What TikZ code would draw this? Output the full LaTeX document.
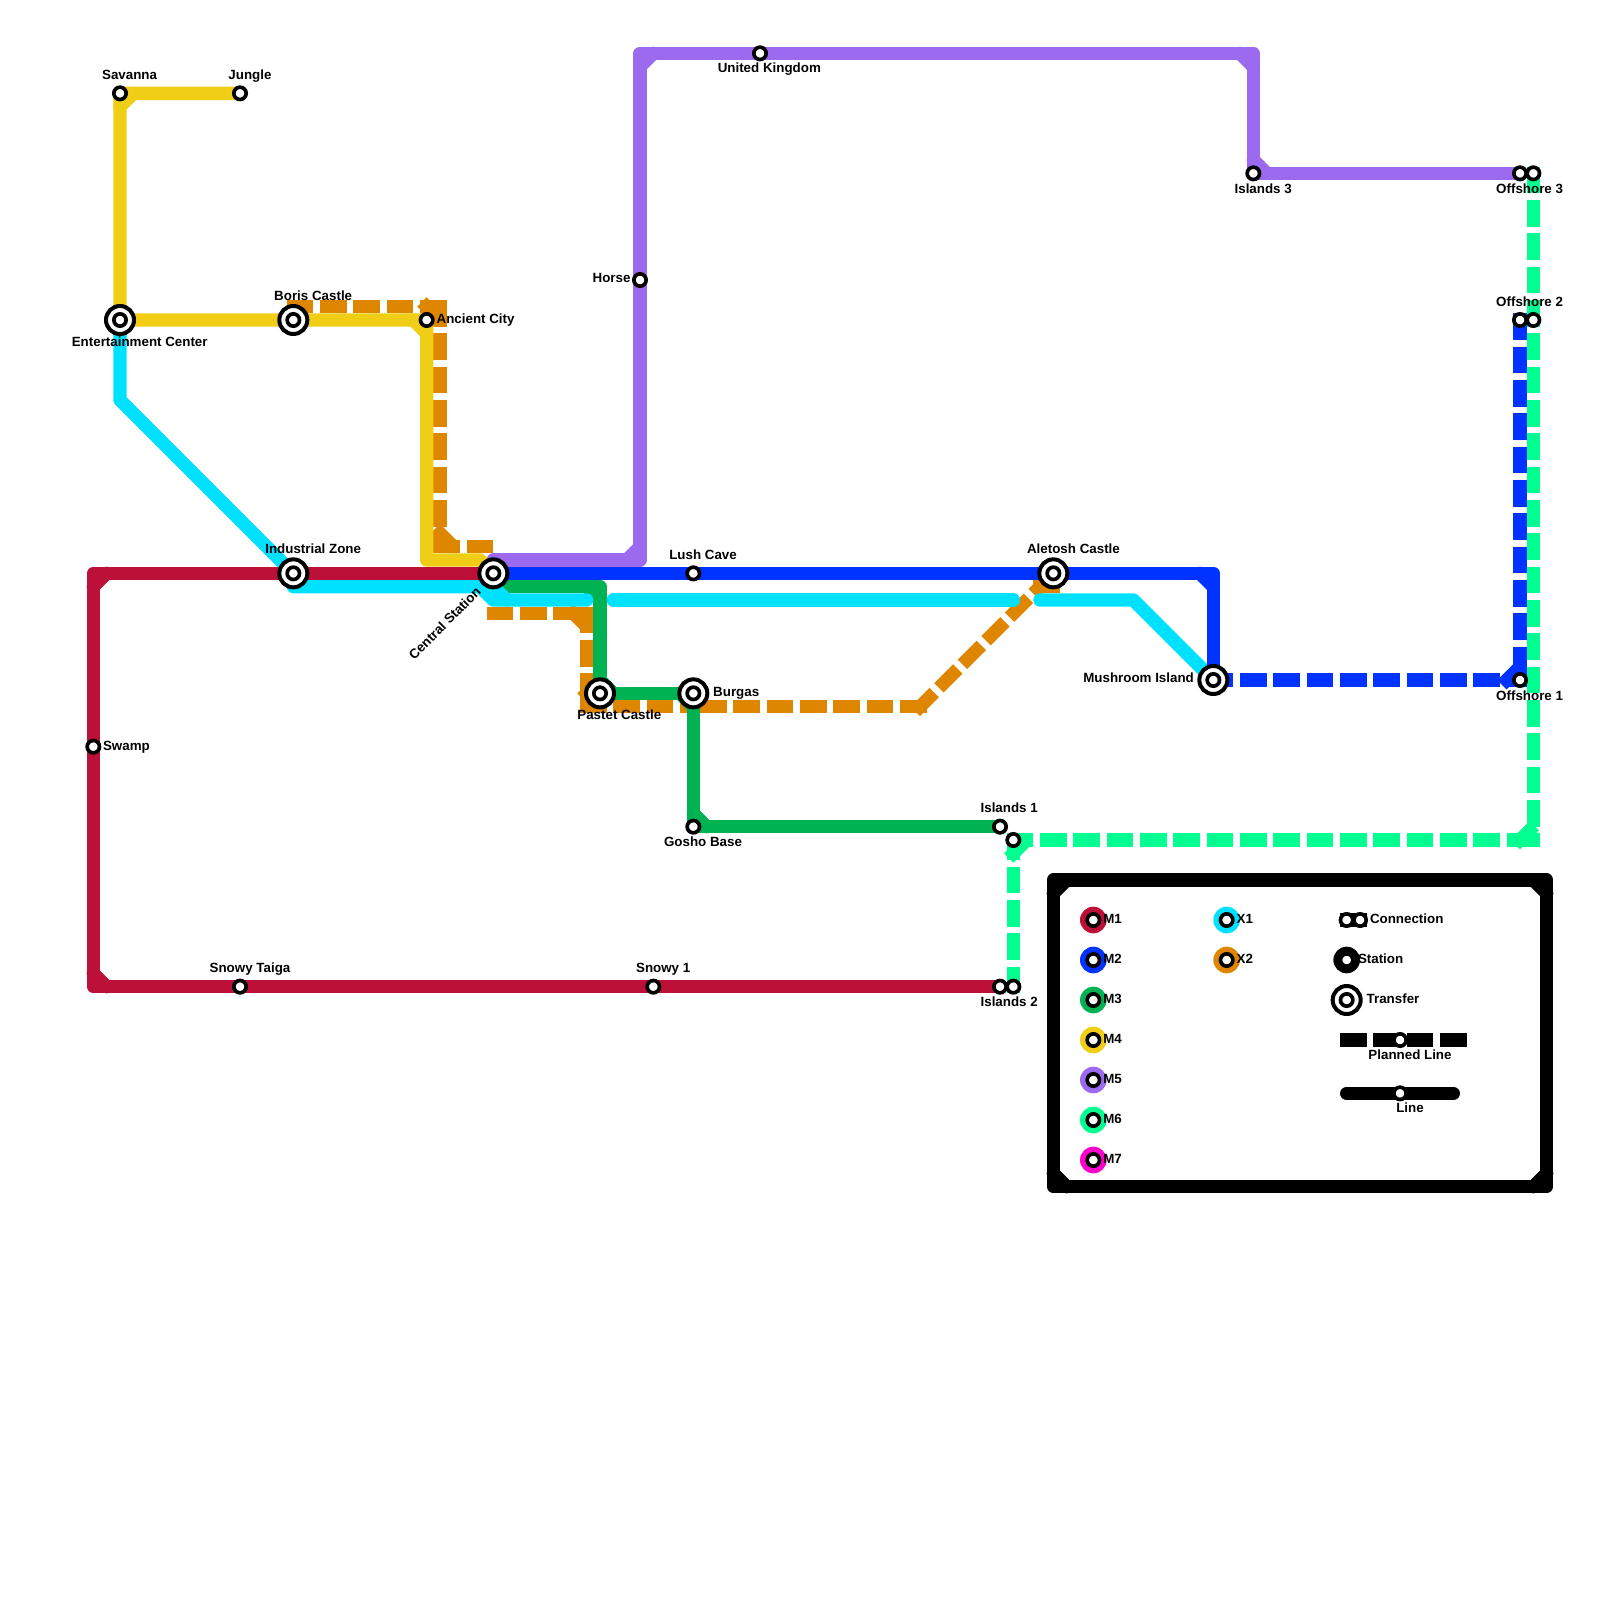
\documentclass[tikz,border=0pt]{standalone}
\usepackage{fontspec}
\setmainfont{Liberation Sans}
\definecolor{cmone}{HTML}{BD1038}
\definecolor{cmtwo}{HTML}{0033FF}
\definecolor{cmthree}{HTML}{00B251}
\definecolor{cmfour}{HTML}{F0CE15}
\definecolor{cmfive}{HTML}{9B6AEE}
\definecolor{cmsix}{HTML}{00FF90}
\definecolor{cmseven}{HTML}{FF00CC}
\definecolor{cxone}{HTML}{00E0FF}
\definecolor{cxtwo}{HTML}{DF8600}
\tikzset{
  metro/.style={line width=.4cm,line cap=round,line join=round},
  planned/.style={line width=.4cm,line cap=rect,dash pattern=on .4cm off .6cm},
  stn/.style={circle,draw=black,fill=white,line width=.11cm,minimum size=.37cm,inner sep=0pt,outer sep=0pt},
  trf/.style={circle,draw=black,fill=white,line width=.12cm,minimum size=.84cm,inner sep=0pt,outer sep=0pt},
  disc/.style={circle,fill=#1,minimum size=.8cm,inner sep=0pt,outer sep=0pt},
  lbl/.style={font=\fontsize{11.4pt}{13pt}\selectfont\bfseries,text=black,inner sep=0pt,outer sep=0pt,text height=8.5pt,text depth=1.1pt},
  lc/.style={lbl,anchor=center},
  ll/.style={lbl,anchor=west},
  lr/.style={lbl,anchor=east},
}
\begin{document}
\begin{tikzpicture}[x=.4cm,y=-.4cm]
\useasboundingbox (0,0) rectangle (120,120);
\fill[white] (0,0) rectangle (120,120);
% station positions
\foreach \n/\x/\y in {savanna/9/7,jungle/18/7,ent/9/24,boris/22/24,ancient/32/24,horse/48/21,uk/57/4,
  islthree/94/13,offthreea/114/13,offthreeb/115/13,offtwoa/114/24,offtwob/115/24,offone/114/51,mush/91/51,
  aletosh/79/43,lush/52/43,central/37/43,indus/22/43,swamp/7/56,taiga/18/74,snowy/49/74,isltwoa/75/74,isltwob/76/74,
  islonea/75/62,isloneb/76/63,gosho/52/62,burgas/52/52,pastet/45/52}
  {\coordinate (p\n) at (\x,\y);}
% X2 planned
\draw[planned,draw=cxtwo] (pboris |- 0,23) -- (33,23);
\draw[planned,draw=cxtwo] (32,23) -- (33,24);
\draw[planned,draw=cxtwo] (33,23) -- (33,41);
\draw[planned,draw=cxtwo] (33,40) -- (34,41);
\draw[planned,draw=cxtwo] (33,41) -- (37,41);
\draw[planned,draw=cxtwo] (37,46) -- (44,46);
\draw[planned,draw=cxtwo] (43,46) -- (44,47);
\draw[planned,draw=cxtwo] (44,46) -- (44,53);
\draw[planned,draw=cxtwo] (44,52) -- (45,53);
\draw[planned,draw=cxtwo] (44,53) -- (pburgas |- 0,53);
\draw[planned,draw=cxtwo] (69,53) -- (pburgas |- 0,53);
\draw[planned,draw=cxtwo] (69,53) -- (paletosh);
\draw[planned,draw=cxtwo] (78,44) -- (paletosh |- 0,44);
% M5
\draw[metro,cmfive] (pcentral |- 0,42) -- (48,42) -- (puk -| 48,0) -- (94,4) -- (pislthree) -- (poffthreea);
\draw[metro,cmfive] (47,42) -- (48,41);
\draw[metro,cmfive] (48,5) -- (49,4);
\draw[metro,cmfive] (93,4) -- (94,5);
\draw[metro,cmfive] (94,12) -- (95,13);
% M4
\draw[metro,cmfour] (pjungle) -- (psavanna) -- (pent) -- (pboris) -- (pancient) -- (32,42) -- (36,42) -- (pcentral);
\draw[metro,cmfour] (9,8) -- (10,7);
\draw[metro,cmfour] (31,24) -- (32,25);
% M1
\draw[metro,cmone] (pcentral) -- (pindus) -- (7,43) -- (pswamp) -- (7,74) -- (ptaiga) -- (psnowy) -- (pisltwoa);
\draw[metro,cmone] (8,43) -- (7,44);
\draw[metro,cmone] (7,73) -- (8,74);
% M3
\draw[metro,cmthree] (37,44) -- (45,44) -- (ppastet) -- (pburgas) -- (pgosho) -- (pislonea);
\draw[metro,cmthree] (44,44) -- (45,45);
\draw[metro,cmthree] (45,51) -- (46,52);
\draw[metro,cmthree] (51,52) -- (52,53);
\draw[metro,cmthree] (52,61) -- (53,62);
% X1
\draw[metro,cxone] (pent) -- (9,30) -- (pindus) -- (22,44) -- (36,44) -- (37,45) -- (44,45);
\draw[metro,cxone] (37,44) -- (38,45);
\draw[metro,cxone] (46,45) -- (76,45);
\draw[metro,cxone] (78,45) -- (85,45) -- (pmush);
% M2
\draw[metro,cmtwo] (pcentral) -- (plush) -- (paletosh) -- (91,43) -- (pmush);
\draw[metro,cmtwo] (90,43) -- (91,44);
\draw[planned,draw=cmtwo] (pmush) -- (poffone);
\draw[planned,draw=cmtwo] (113,51) -- (poffone |- 0,50);
\draw[planned,draw=cmtwo] (poffone |- 0,24) -- (poffone);
% M6
\draw[planned,draw=cmsix] (poffthreeb) -- (115,63);
\draw[planned,draw=cmsix] (115,62.98) -- (115,63);
\draw[planned,draw=cmsix] (pisloneb) -- (115,63);
\draw[planned,draw=cmsix] (pisloneb) -- (pisltwob);
\draw[planned,draw=cmsix] (76,64) -- (77,63);
\draw[planned,draw=cmsix] (114,63) -- (115,62);
% legend box
\draw[metro,black] (79,66) -- (116,66) -- (116,89) -- (79,89) -- cycle;
\draw[metro,black] (79,67) -- (80,66);
\draw[metro,black] (115,66) -- (116,67);
\draw[metro,black] (116,88) -- (115,89);
\draw[metro,black] (80,89) -- (79,88);
% legend lines
\coordinate (pla) at (101,78); \coordinate (plb) at (110,78);
\draw[planned,draw=black] (pla) -- (plb);
\coordinate (lia) at (101,82); \coordinate (lib) at (109,82);
\draw[metro,black] (lia) -- (lib);
\coordinate (cona) at (101,69); \coordinate (conb) at (102,69);
\draw[black,line width=.42cm,line cap=rect] (cona) -- (conb);
% legend discs
\foreach \n/\c/\x/\y in {mone/cmone/82/69,mtwo/cmtwo/82/72,mthree/cmthree/82/75,mfour/cmfour/82/78,mfive/cmfive/82/81,msix/cmsix/82/84,mseven/cmseven/82/87,xone/cxone/92/69,xtwo/cxtwo/92/72,lst/black/101/72}
  {\node[disc=\c] (d\n) at (\x,\y) {}; \node[stn] (s\n) at (\x,\y) {};}
\foreach \n/\x/\y in {lcona/101/69,lconb/102/69,lplan/105/78,lline/105/82}
  {\node[stn] (\n) at (\x,\y) {};}
\node[trf] (ltrfo) at (101,75) {}; \node[stn] (ltrfi) at (101,75) {};
% stations
\foreach \n in {ent,boris,indus,central,pastet,burgas,aletosh,mush}
  {\node[trf] (t\n) at (p\n) {}; \node[stn] (\n) at (p\n) {};}
\foreach \n in {savanna,jungle,ancient,horse,uk,islthree,offthreea,offthreeb,offtwoa,offtwob,offone,lush,swamp,taiga,snowy,isltwoa,isltwob,islonea,isloneb,gosho}
  {\node[stn] (\n) at (p\n) {};}
% labels
\node[lc] (a1) at (9.72,5.66) {Savanna};
\node[lc] (a2) at (18.75,5.66) {Jungle};
\node[lc] (a3) at (10.48,25.64) {Entertainment Center};
\node[lc] (a4) at (23.49,22.19) {Boris Castle};
\node[ll] (a5) at (32.75,23.95) {Ancient City};
\node[lr] (a6) at (47.29,20.89) {Horse};
\node[lc] (a7) at (57.70,5.13) {United Kingdom};
\node[lc] (a8) at (94.74,14.16) {Islands 3};
\node[lc] (a9) at (114.72,14.16) {Offshore 3};
\node[lc] (a10) at (114.72,22.65) {Offshore 2};
\node[lc] (a11) at (114.72,52.19) {Offshore 1};
\node[lr] (a12) at (89.54,50.89) {Mushroom Island};
\node[lc] (a13) at (80.51,41.17) {Aletosh Castle};
\node[lc] (a14) at (52.73,41.63) {Lush Cave};
\node[lc] (a15) at (23.49,41.17) {Industrial Zone};
\node[lc,rotate=45] (a16) at (33.37,46.76) {Central Station};
\node[ll] (a17) at (53.49,51.89) {Burgas};
\node[lc] (a18) at (46.45,53.65) {Pastet Castle};
\node[lc] (a19) at (52.73,63.14) {Gosho Base};
\node[lc] (a20) at (75.69,60.61) {Islands 1};
\node[lc] (a21) at (75.69,75.15) {Islands 2};
\node[lc] (a22) at (18.75,72.63) {Snowy Taiga};
\node[lc] (a23) at (49.74,72.63) {Snowy 1};
\node[ll] (a24) at (7.73,55.94) {Swamp};
% legend labels
\node[ll] (b1) at (82.75,68.9) {M1};
\node[ll] (b2) at (82.75,71.9) {M2};
\node[ll] (b3) at (82.75,74.9) {M3};
\node[ll] (b4) at (82.75,77.9) {M4};
\node[ll] (b5) at (82.75,80.9) {M5};
\node[ll] (b6) at (82.75,83.9) {M6};
\node[ll] (b7) at (82.75,86.9) {M7};
\node[ll] (b8) at (92.75,68.9) {X1};
\node[ll] (b9) at (92.75,71.9) {X2};
\node[ll] (b10) at (102.75,68.9) {Connection};
\node[ll] (b11) at (101.85,71.9) {Station};
\node[ll] (b12) at (102.5,74.9) {Transfer};
\node[lc] (b13) at (105.75,79.1) {Planned Line};
\node[lc] (b14) at (105.75,83.1) {Line};
\end{tikzpicture}
\end{document}
